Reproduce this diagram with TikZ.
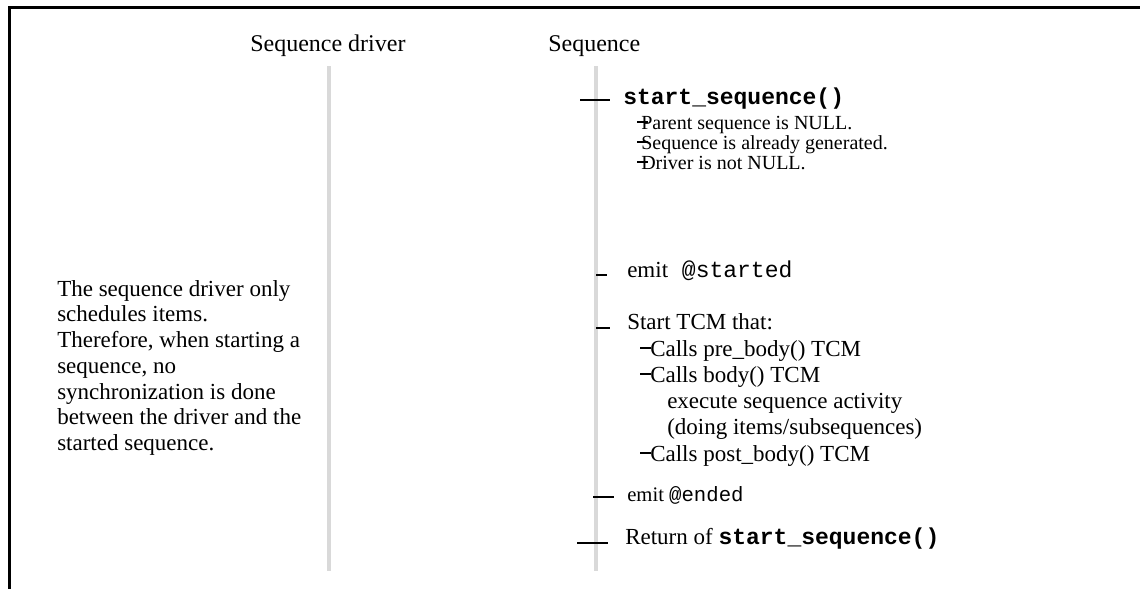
\documentclass[tikz,border=0pt]{standalone}
\usepackage{fontspec}
\setmainfont{Liberation Serif}
\setmonofont{Liberation Mono}
\definecolor{lifegray}{RGB}{217,217,217}
\begin{document}
\begin{tikzpicture}[x=0.75pt,y=-0.75pt,
  frame/.style={line width=2.25pt,black},
  life/.style={line width=3pt,lifegray},
  tick/.style={line width=1.5pt,black},
  subdash/.style={line width=1.1pt,black},
  title/.style={inner sep=0pt,anchor=base west,font=\fontsize{18}{20}\selectfont},
  body/.style={inner sep=0pt,anchor=mid west,font=\fontsize{17.25}{19}\selectfont},
  small/.style={inner sep=0pt,anchor=mid west,font=\fontsize{15}{16}\selectfont},
  note/.style={inner sep=0pt,anchor=north west,align=left,font=\fontsize{17.25}{19.3}\selectfont}]
\useasboundingbox (0,0) rectangle (1140,589);
% frame
\coordinate (fb) at (9.5,589);
\coordinate (fc) at (9.5,7.5);
\coordinate (fr) at (1140,7.5);
\draw[frame] (fb) -- (fc) -- (fr);
% titles
\node[title] (td) at (250,51) {Sequence driver};
\node[title] (ts) at (548,51) {Sequence};
% lifelines
\coordinate (d1) at (329,66); \coordinate (d2) at (329,571);
\coordinate (q1) at (596,66); \coordinate (q2) at (596,571);
\draw[life] (d1) -- (d2);
\draw[life] (q1) -- (q2);
% left note
\node[note] (nt) at (57,280) {The sequence driver only\\schedules items.\\Therefore, when starting a\\sequence, no\\synchronization is done\\between the driver and the\\started sequence.};
% start_sequence
\node[body] (a1) at (623,101) {\texttt{\bfseries start\_sequence()}};
\coordinate (a1t) at (580,100); \coordinate (a1e) at (610,100);
\draw[tick] (a1t) -- (a1e);
\node[small] (s1) at (641,126) {Parent sequence is NULL.};
\node[small] (s2) at (641,146) {Sequence is already generated.};
\node[small] (s3) at (641,166) {Driver is not NULL.};
\coordinate (s1t) at (637,122); \coordinate (s1e) at (648,122);
\coordinate (s2t) at (637,142); \coordinate (s2e) at (648,142);
\coordinate (s3t) at (637,162); \coordinate (s3e) at (648,162);
\draw[subdash] (s1t) -- (s1e);
\draw[subdash] (s2t) -- (s2e);
\draw[subdash] (s3t) -- (s3e);
% emit started
\node[body] (e1) at (627,274) {emit\texttt{ @started}};
\coordinate (e1t) at (596,275); \coordinate (e1e) at (607,275);
\draw[tick] (e1t) -- (e1e);
% Start TCM
\node[body] (c0) at (627,326) {Start TCM that:};
\coordinate (c0t) at (596,328); \coordinate (c0e) at (610,328);
\draw[tick] (c0t) -- (c0e);
\node[body] (c1) at (650,353) {Calls pre\_body() TCM};
\node[body] (c2) at (650,379) {Calls body() TCM};
\node[body] (c3) at (667,405) {execute sequence activity};
\node[body] (c4) at (667,431) {(doing items/subsequences)};
\node[body] (c5) at (650,458) {Calls post\_body() TCM};
\coordinate (c1t) at (640,348); \coordinate (c1e) at (651,348);
\coordinate (c2t) at (640,374); \coordinate (c2e) at (651,374);
\coordinate (c5t) at (640,453); \coordinate (c5e) at (651,453);
\draw[subdash] (c1t) -- (c1e);
\draw[subdash] (c2t) -- (c2e);
\draw[subdash] (c5t) -- (c5e);
% emit ended
\node[body,font=\fontsize{15.5}{17}\selectfont] (e2) at (627,498) {emit \texttt{@ended}};
\coordinate (e2t) at (593,497); \coordinate (e2e) at (614,497);
\draw[tick] (e2t) -- (e2e);
% return
\node[body] (r1) at (625,541) {Return of \texttt{\bfseries start\_sequence()}};
\coordinate (r1t) at (577,543); \coordinate (r1e) at (608,543);
\draw[tick] (r1t) -- (r1e);
\end{tikzpicture}
\end{document}
